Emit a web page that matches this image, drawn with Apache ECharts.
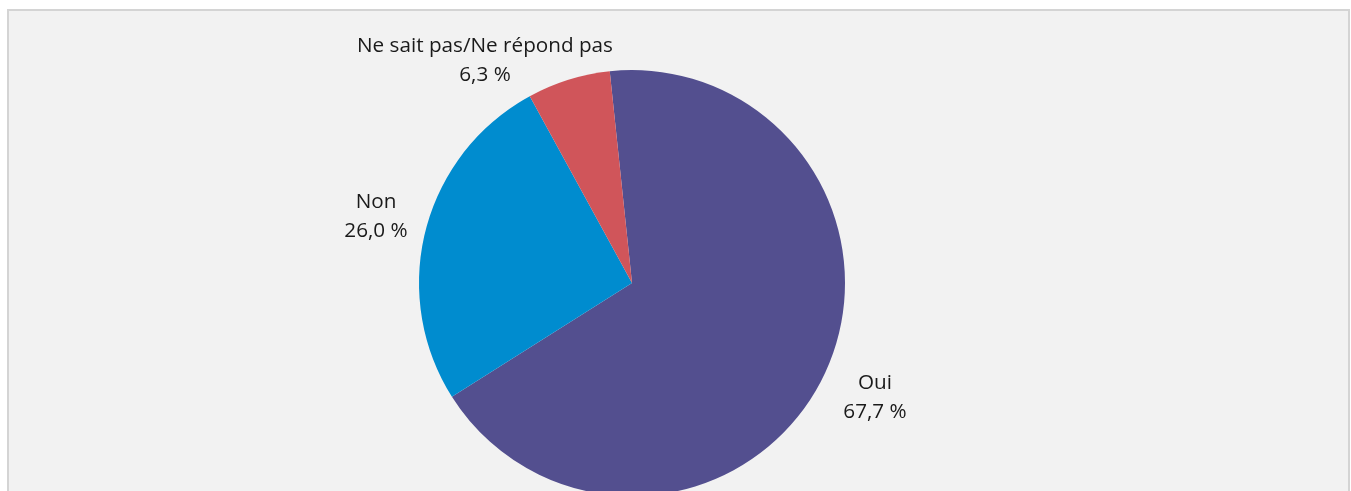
<!DOCTYPE html>
<html>
<head>
<meta charset="utf-8">
<script src="https://cdn.jsdelivr.net/npm/echarts@6/dist/echarts.min.js"></script>
<style>
	html, body { margin: 0; padding: 0; background: #ffffff; overflow: hidden; }
	.frame {
		position: absolute; left: 7px; top: 9px; width: 1339px; height: 600px;
		border: 2px solid #d4d4d4; background: #f2f2f2;
	}
	.chart { position: absolute; left: 0; top: 0; width: 1351px; height: 491px; }
</style>
</head>
<body>
<div class="frame"></div>
<div class="chart"></div>
<script>
// réponses, sens horaire à partir du haut
const categories = ['Oui', 'Non', 'Ne sait pas/Ne répond pas'];
const values = [67.7, 26.0, 6.3];
const colors = ['#534f8f', '#008ccf', '#d0555a'];

// emplacement des étiquettes (comme dans le graphique Excel)
const labelPos = [[875, 398], [376, 217], [485, 61]];

let el = document.querySelector('.chart');
let chart = echarts.init(el, null, { renderer: 'canvas' });
const opt = {
	backgroundColor: 'transparent',
	animation: false,
	series: [
		{
			type: 'pie',
			center: [632, 283],
			radius: 213,
			startAngle: 96,
			clockwise: true,
			data: [],
			label: {
				show: true,
				position: 'outside',
				color: '#1a1a1a',
				fontFamily: 'Open Sans',
				fontSize: 20.7,
				lineHeight: 29,
				align: 'center',
				formatter: p => p.name + '\n' + p.value.toFixed(1).replace('.', ',') + ' %'
			},
			labelLine: { show: false },
			labelLayout: params => ({
				x: labelPos[params.dataIndex][0],
				y: labelPos[params.dataIndex][1],
				align: 'center',
				verticalAlign: 'middle'
			}),
			itemStyle: { borderWidth: 0 },
			emphasis: { disabled: true }
		}
	]
};
categories.forEach((name, i) => {
	opt.series[0].data.push({
		name: name,
		value: values[i],
		itemStyle: { color: colors[i] }
	});
});
chart.setOption(opt);
</script>
</body>
</html>
